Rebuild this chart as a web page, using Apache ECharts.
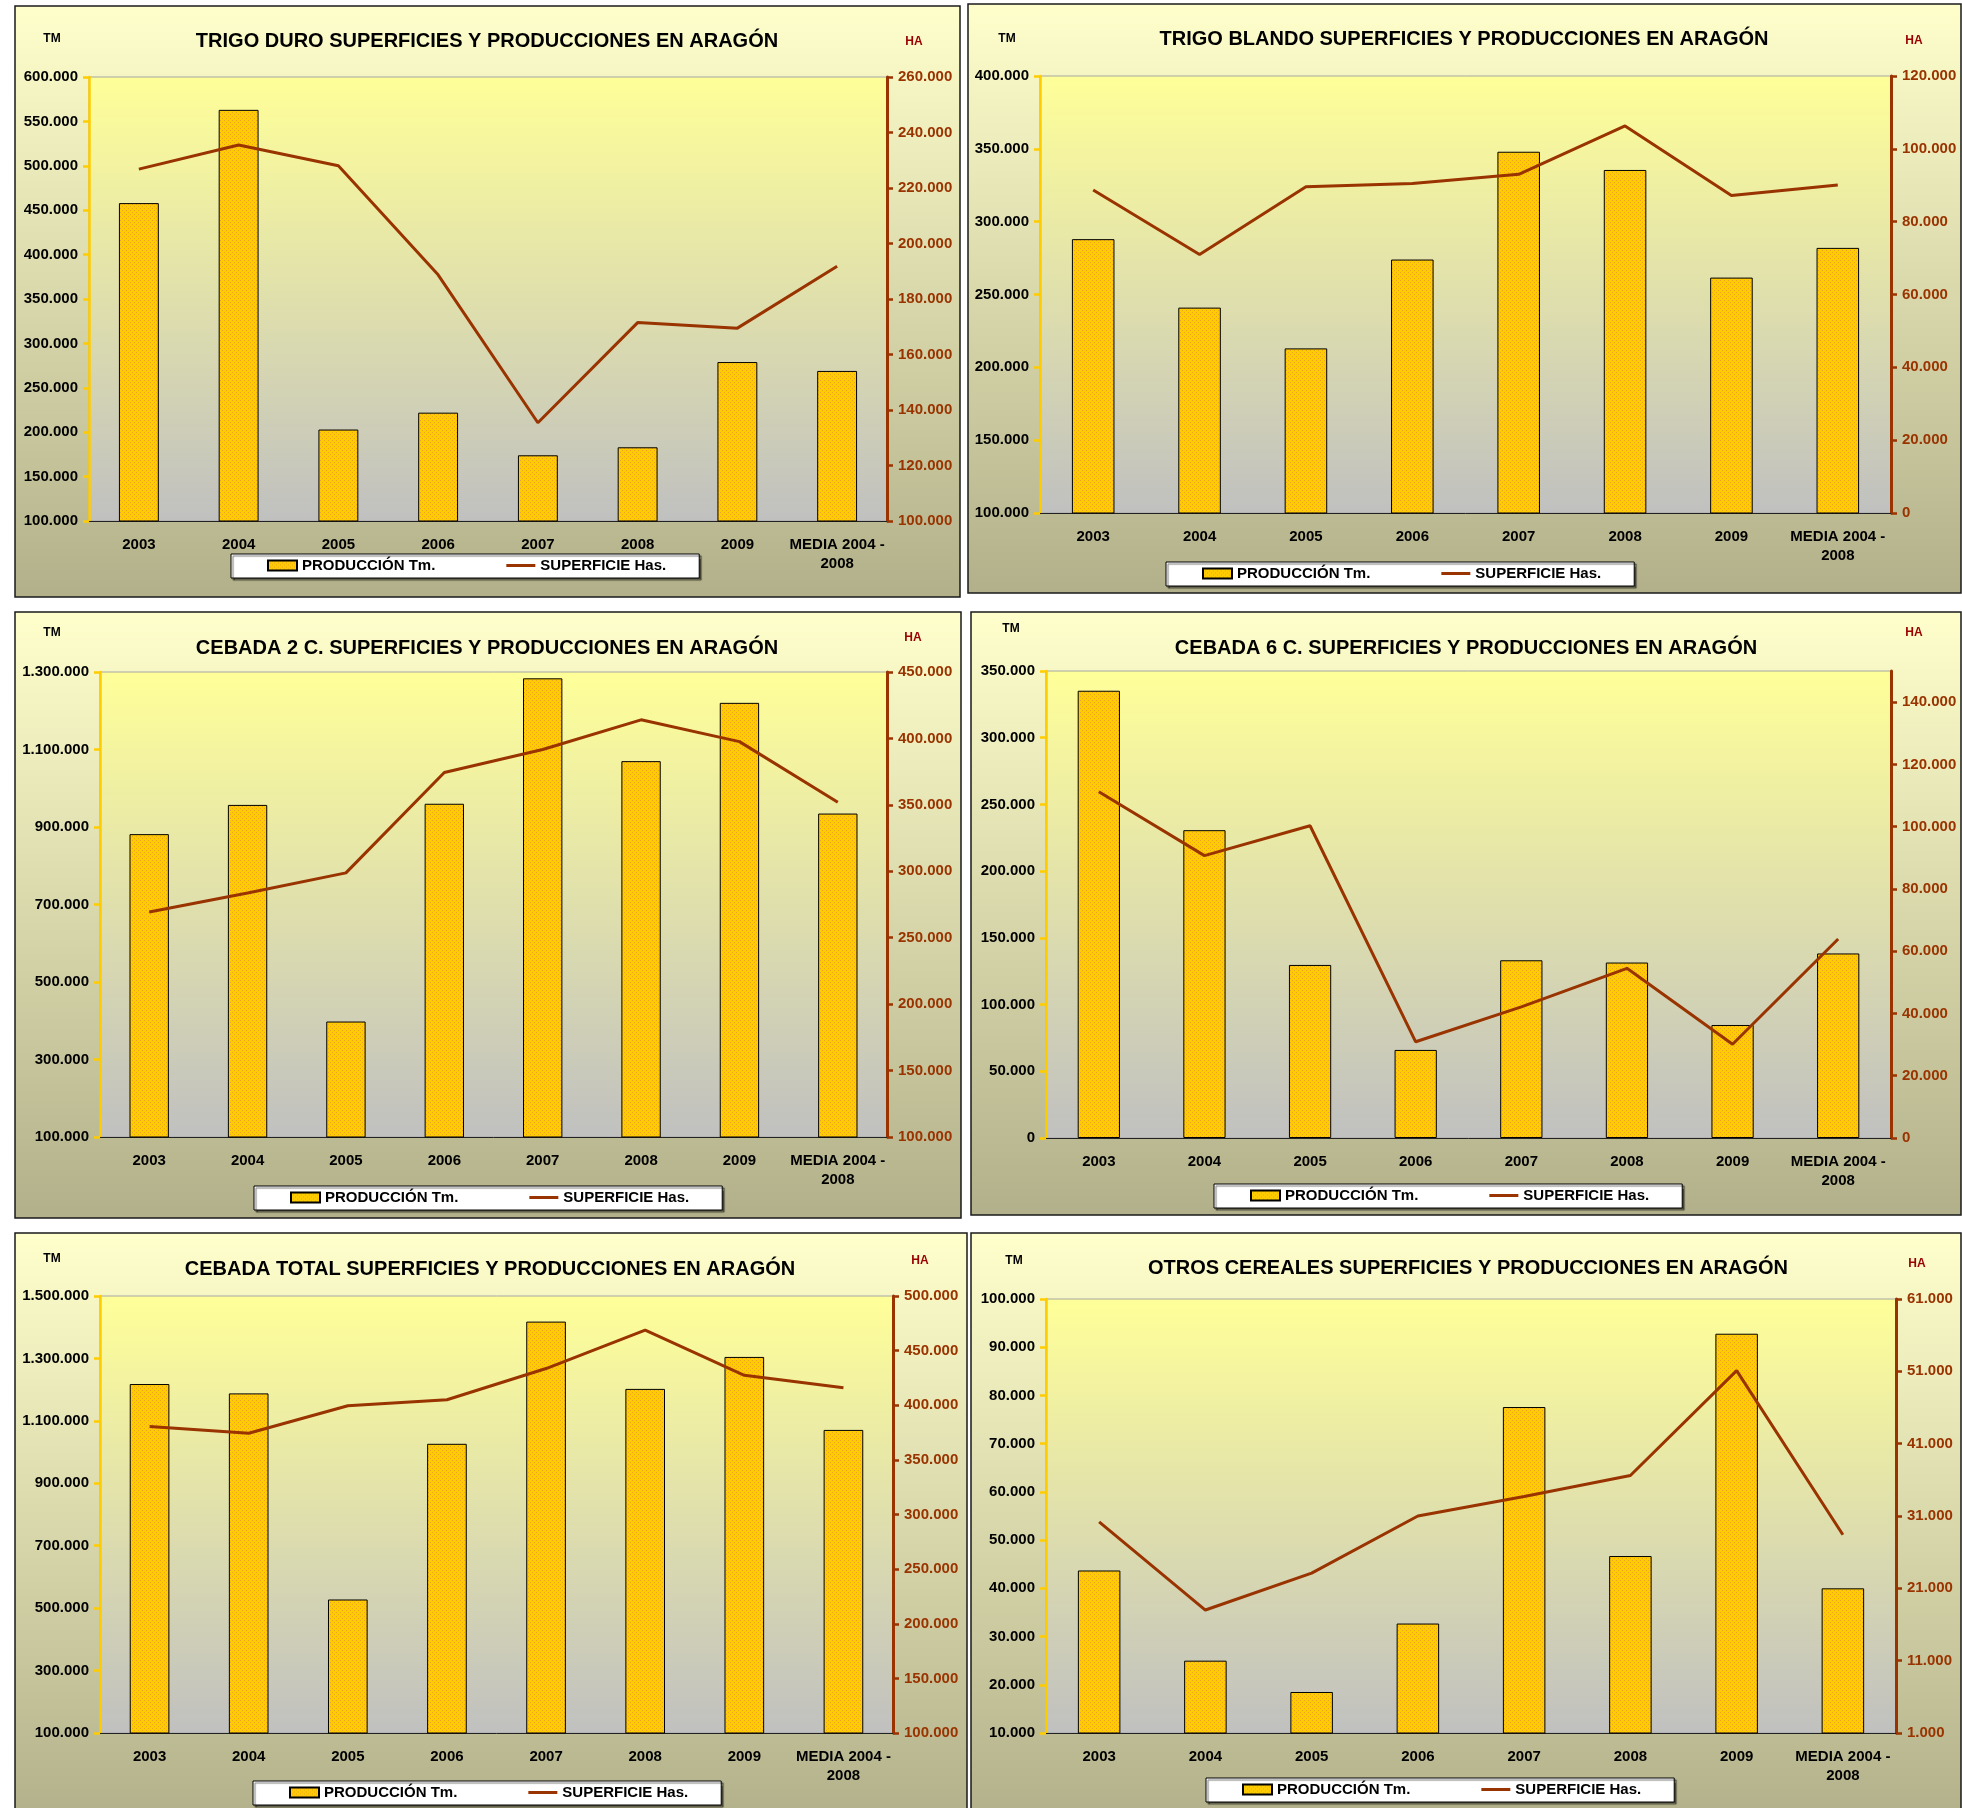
<!DOCTYPE html>
<html>
<head>
<meta charset="utf-8">
<script src="https://cdn.jsdelivr.net/npm/echarts@6/dist/echarts.min.js"></script>
<style>
html, body { margin: 0; padding: 0; background: #fff; }
#graficos { width: 1962px; height: 1808px; }
</style>
</head>
<body>
<div id="graficos"></div>
<script>
const categorias = ['2003', '2004', '2005', '2006', '2007', '2008', '2009', 'MEDIA 2004 -\n2008'];

const titulos = [
  'TRIGO DURO SUPERFICIES Y PRODUCCIONES EN ARAGÓN',
  'TRIGO BLANDO SUPERFICIES Y PRODUCCIONES EN ARAGÓN',
  'CEBADA 2 C. SUPERFICIES Y PRODUCCIONES EN ARAGÓN',
  'CEBADA 6 C. SUPERFICIES Y PRODUCCIONES EN ARAGÓN',
  'CEBADA TOTAL SUPERFICIES Y PRODUCCIONES EN ARAGÓN',
  'OTROS CEREALES SUPERFICIES Y PRODUCCIONES EN ARAGÓN'
];

// produccion (Tm) y superficie (Has) por cultivo
const prodTrigoDuro = [458000, 563000, 203000, 222000, 174000, 183000, 279000, 269000];
const supTrigoDuro = [226800, 235500, 228000, 188700, 135400, 171500, 169500, 191800];

const prodTrigoBlando = [288000, 241000, 213000, 274000, 348000, 335500, 261600, 282000];
const supTrigoBlando = [88700, 71000, 89600, 90500, 93000, 106300, 87200, 90100];

const prodCebada2 = [881600, 957000, 398000, 960000, 1283700, 1070000, 1220400, 934700];
const supCebada2 = [269300, 283600, 298800, 374400, 391700, 414000, 397600, 352000];

const prodCebada6 = [335200, 230700, 129700, 66000, 133200, 131500, 84700, 138300];
const supCebada6 = [111200, 90700, 100300, 30900, 42100, 54500, 30100, 63900];

const prodCebadaTotal = [1218000, 1188000, 527700, 1026500, 1418000, 1202400, 1304800, 1071000];
const supCebadaTotal = [380500, 374400, 399500, 405000, 433600, 468700, 427400, 416000];

const prodOtros = [43700, 25000, 18500, 32700, 77600, 46700, 92800, 40000];
const supOtros = [30200, 18000, 23100, 31000, 33700, 36600, 51100, 28400];

// ejes: [min, max, intervalo]
const ejeTm = [
  [100000, 600000, 50000],
  [100000, 400000, 50000],
  [100000, 1300000, 200000],
  [0, 350000, 50000],
  [100000, 1500000, 200000],
  [10000, 100000, 10000]
];
const ejeHa = [
  [100000, 260000, 20000],
  [0, 120000, 20000],
  [100000, 450000, 50000],
  [0, 150000, 20000],
  [100000, 500000, 50000],
  [1000, 61000, 10000]
];

const produccion = [prodTrigoDuro, prodTrigoBlando, prodCebada2, prodCebada6, prodCebadaTotal, prodOtros];
const superficie = [supTrigoDuro, supTrigoBlando, supCebada2, supCebada6, supCebadaTotal, supOtros];

// posicion de cada panel en la pagina
const paneles = [
  {marco: [15, 6, 945, 591], grid: [89, 77, 798, 444], titulo: [487, 41], tm: [52, 39], ha: [914, 42], leyenda: [231, 554]},
  {marco: [968, 4, 993, 589], grid: [1040, 76, 851, 437], titulo: [1464, 39], tm: [1007, 39], ha: [1914, 41], leyenda: [1166, 562]},
  {marco: [15, 612, 946, 606], grid: [100, 672, 787, 465], titulo: [487, 648], tm: [52, 633], ha: [913, 638], leyenda: [254, 1186]},
  {marco: [971, 612, 990, 603], grid: [1046, 671, 845, 467], titulo: [1466, 648], tm: [1011, 629], ha: [1914, 633], leyenda: [1214, 1184]},
  {marco: [15, 1233, 952, 590], grid: [100, 1296, 793, 437], titulo: [490, 1269], tm: [52, 1259], ha: [920, 1261], leyenda: [253, 1781]},
  {marco: [971, 1233, 990, 590], grid: [1046, 1299, 850, 434], titulo: [1468, 1268], tm: [1014, 1261], ha: [1917, 1264], leyenda: [1206, 1778]}
];

const fuente = '"Liberation Sans", Arial, sans-serif';
const miles = v => String(Math.round(v)).replace(/\B(?=(\d{3})+(?!\d))/g, '.');

// trama punteada de las barras
const trama = document.createElement('canvas');
trama.width = 4;
trama.height = 4;
const ctx = trama.getContext('2d');
ctx.fillStyle = '#FFCC00';
ctx.fillRect(0, 0, 4, 4);
ctx.fillStyle = '#EFA024';
ctx.fillRect(0, 0, 1, 1);
ctx.fillRect(2, 2, 1, 1);

// icono de linea para la leyenda (los M extra fijan la caja del simbolo)
const iconoLinea = 'path://M0,0 M29,10 M0,3.5 L29,3.5 L29,6.5 L0,6.5 Z';

const grids = [], xAxis = [], yAxis = [], series = [], legend = [], graphic = [];

paneles.forEach((p, i) => {
  graphic.push({
    type: 'rect', z: -1,
    shape: {x: p.marco[0], y: p.marco[1], width: p.marco[2], height: p.marco[3]},
    style: {
      fill: new echarts.graphic.LinearGradient(0, 0, 0, 1, [
        {offset: 0, color: '#FFFFCC'},
        {offset: 1, color: '#B2B08A'}
      ]),
      stroke: '#1a1a1a', lineWidth: 1.5
    }
  });
  graphic.push({
    type: 'text', x: p.titulo[0], y: p.titulo[1],
    style: {text: titulos[i], fontSize: 20, fontWeight: 'bold', fontFamily: fuente, fill: '#000', align: 'center', verticalAlign: 'middle'}
  });
  graphic.push({
    type: 'text', x: p.tm[0], y: p.tm[1],
    style: {text: 'TM', fontSize: 12, fontWeight: 'bold', fontFamily: fuente, fill: '#000', align: 'center', verticalAlign: 'middle'}
  });
  graphic.push({
    type: 'text', x: p.ha[0], y: p.ha[1],
    style: {text: 'HA', fontSize: 12, fontWeight: 'bold', fontFamily: fuente, fill: '#990000', align: 'center', verticalAlign: 'middle'}
  });

  grids.push({
    left: p.grid[0], top: p.grid[1], width: p.grid[2], height: p.grid[3],
    show: true,
    backgroundColor: new echarts.graphic.LinearGradient(0, 0, 0, 1, [
      {offset: 0, color: '#FFFF99'},
      {offset: 1, color: '#C0C0C0'}
    ]),
    borderColor: '#A6A6A6', borderWidth: 1,
    containLabel: false, outerBoundsMode: 'none'
  });

  xAxis.push({
    type: 'category', gridIndex: i, data: categorias,
    axisLine: {lineStyle: {color: '#222', width: 1}},
    axisTick: {length: 6, lineStyle: {color: '#222'}},
    axisLabel: {interval: 0, color: '#000', fontWeight: 'bold', fontSize: 15, fontFamily: fuente, margin: 14, lineHeight: 19},
    splitLine: {show: false}
  });

  yAxis.push({
    type: 'value', gridIndex: i, position: 'left',
    min: ejeTm[i][0], max: ejeTm[i][1], interval: ejeTm[i][2],
    axisLine: {show: true, lineStyle: {color: '#FFCC00', width: 2.5}},
    axisTick: {show: true, length: 6, lineStyle: {color: '#FFCC00', width: 2.5}},
    axisLabel: {formatter: miles, color: '#000', fontWeight: 'bold', fontSize: 15, fontFamily: fuente, margin: 11},
    splitLine: {show: false}
  });
  yAxis.push({
    type: 'value', gridIndex: i, position: 'right',
    min: ejeHa[i][0], max: ejeHa[i][1], interval: ejeHa[i][2],
    axisLine: {show: true, lineStyle: {color: '#993300', width: 3}},
    axisTick: {show: true, length: 6, lineStyle: {color: '#993300', width: 2.5}},
    axisLabel: {formatter: miles, color: '#993300', fontWeight: 'bold', fontSize: 15, fontFamily: fuente, margin: 11,
      showMaxLabel: (ejeHa[i][1] - ejeHa[i][0]) % ejeHa[i][2] === 0},
    splitLine: {show: false}
  });

  series.push({
    type: 'bar', name: 'PRODUCCIÓN Tm.', xAxisIndex: i, yAxisIndex: 2 * i,
    data: produccion[i], barWidth: '40%',
    itemStyle: {color: {image: trama, repeat: 'repeat'}, borderColor: '#000', borderWidth: 1}
  });
  series.push({
    type: 'line', name: 'SUPERFICIE Has.', xAxisIndex: i, yAxisIndex: 2 * i + 1,
    data: superficie[i], symbol: 'none', z: 3,
    lineStyle: {color: '#993300', width: 3}, itemStyle: {color: '#993300'}
  });

  legend.push({
    left: p.leyenda[0], top: p.leyenda[1], orient: 'horizontal',
    itemGap: 71, itemWidth: 29, itemHeight: 10,
    padding: [4, 33, 5, 36],
    backgroundColor: '#fff', borderColor: '#000', borderWidth: 1,
    shadowColor: 'rgba(0,0,0,0.55)', shadowOffsetX: 2, shadowOffsetY: 2, shadowBlur: 1,
    selectedMode: false,
    textStyle: {color: '#000', fontWeight: 'bold', fontSize: 15, fontFamily: fuente},
    data: [{name: 'PRODUCCIÓN Tm.', icon: 'rect'}, {name: 'SUPERFICIE Has.', icon: iconoLinea}]
  });
});

const chart = echarts.init(document.getElementById('graficos'));
chart.setOption({
  animation: false,
  backgroundColor: '#fff',
  textStyle: {fontFamily: fuente},
  graphic: graphic,
  grid: grids,
  xAxis: xAxis,
  yAxis: yAxis,
  legend: legend,
  series: series
});
</script>
</body>
</html>
